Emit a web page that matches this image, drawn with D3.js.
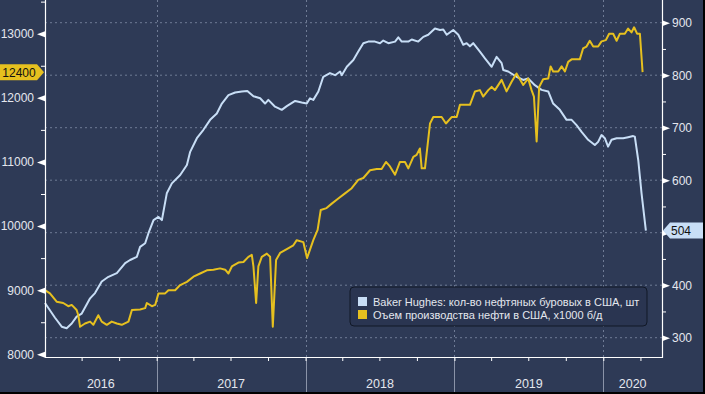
<!DOCTYPE html>
<html>
<head>
<meta charset="utf-8">
<script src="https://cdn.jsdelivr.net/npm/d3@7"></script>
<style>
    body { margin: 0; background: #2e3a56; }
    svg { display: block; font-family: "Liberation Sans", Arial, sans-serif; }
</style>
</head>
<body>
<div id="chart"></div>
<script>
// Tick values and labels
const leftTicks = [8000, 9000, 10000, 11000, 12000, 13000];
const leftMinor = [8500, 9500, 10500, 11500, 12500, 13500];
const rightTicks = [300, 400, 500, 600, 700, 800, 900];
const rightMinor = [350, 450, 550, 650, 750, 850];
const years = [2016, 2017, 2018, 2019, 2020];
const legendLabels = [
    "Baker Hughes: кол-во нефтяных буровых в США, шт",
    "Оъем производства нефти в США, x1000 б/д"
];

// Baker Hughes oil rigs, [decimal year, rigs] (right axis)
const rigCount = [
    [2016.252, 366], [2016.319, 338], [2016.364, 321], [2016.397, 318], [2016.431, 327], [2016.464, 340],
    [2016.498, 346], [2016.554, 375], [2016.587, 385], [2016.632, 407], [2016.677, 416], [2016.733, 423],
    [2016.789, 442], [2016.822, 448], [2016.867, 454], [2016.889, 473], [2016.923, 480], [2016.945, 499],
    [2016.979, 524], [2017.012, 530], [2017.035, 524], [2017.068, 575], [2017.102, 594], [2017.158, 610],
    [2017.203, 629], [2017.225, 654], [2017.270, 680], [2017.314, 696], [2017.359, 715], [2017.404, 727],
    [2017.438, 746], [2017.482, 762], [2017.527, 767], [2017.572, 769], [2017.609, 770], [2017.650, 760],
    [2017.695, 756], [2017.728, 746], [2017.750, 753], [2017.795, 740], [2017.840, 734], [2017.874, 741],
    [2017.930, 751], [2017.974, 748], [2018.008, 746], [2018.030, 756], [2018.052, 753], [2018.086, 769],
    [2018.119, 797], [2018.164, 804], [2018.198, 800], [2018.232, 807], [2018.243, 800], [2018.277, 816],
    [2018.321, 829], [2018.354, 845], [2018.388, 861], [2018.421, 864], [2018.466, 864], [2018.500, 861],
    [2018.522, 866], [2018.556, 861], [2018.601, 864], [2018.623, 872], [2018.646, 864], [2018.690, 864],
    [2018.713, 868], [2018.757, 864], [2018.791, 873], [2018.824, 877], [2018.869, 889], [2018.903, 886],
    [2018.925, 887], [2018.948, 877], [2018.992, 886], [2019.026, 877], [2019.059, 858], [2019.082, 861],
    [2019.104, 855], [2019.126, 861], [2019.171, 845], [2019.205, 832], [2019.250, 816], [2019.283, 835],
    [2019.317, 823], [2019.328, 810], [2019.361, 807], [2019.417, 797], [2019.462, 791], [2019.495, 794],
    [2019.540, 781], [2019.585, 772], [2019.630, 769], [2019.663, 746], [2019.708, 734], [2019.753, 715],
    [2019.787, 715], [2019.820, 705], [2019.854, 692], [2019.898, 677], [2019.943, 667], [2019.965, 673],
    [2019.988, 686], [2020.010, 680], [2020.032, 664], [2020.055, 677], [2020.089, 680], [2020.133, 680],
    [2020.166, 682], [2020.200, 684], [2020.211, 683], [2020.234, 638], [2020.256, 575], [2020.285, 504]
];

// US crude production, [decimal year, thousand b/d] (left axis)
const oilOutput = [
    [2016.252, 9000], [2016.285, 8950], [2016.330, 8820], [2016.374, 8800], [2016.408, 8750], [2016.431, 8770],
    [2016.464, 8690], [2016.475, 8610], [2016.487, 8430], [2016.520, 8480], [2016.554, 8510], [2016.576, 8460],
    [2016.609, 8610], [2016.632, 8510], [2016.666, 8460], [2016.699, 8510], [2016.733, 8480], [2016.766, 8460],
    [2016.811, 8510], [2016.834, 8690], [2016.889, 8700], [2016.923, 8720], [2016.934, 8800], [2016.968, 8750],
    [2016.990, 8770], [2017.012, 8950], [2017.057, 8950], [2017.079, 9000], [2017.124, 9000], [2017.158, 9080],
    [2017.203, 9130], [2017.247, 9210], [2017.292, 9260], [2017.337, 9310], [2017.381, 9320], [2017.426, 9340],
    [2017.460, 9320], [2017.482, 9260], [2017.505, 9370], [2017.549, 9430], [2017.583, 9440], [2017.616, 9520],
    [2017.639, 9550], [2017.650, 9370], [2017.668, 8800], [2017.683, 9370], [2017.706, 9520], [2017.740, 9570],
    [2017.762, 9520], [2017.780, 8430], [2017.802, 9470], [2017.829, 9580], [2017.874, 9640], [2017.918, 9700],
    [2017.941, 9780], [2017.985, 9750], [2018.010, 9500], [2018.052, 9780], [2018.081, 9940], [2018.102, 10250],
    [2018.141, 10280], [2018.176, 10350], [2018.220, 10430], [2018.265, 10510], [2018.310, 10590], [2018.354, 10720],
    [2018.388, 10750], [2018.433, 10870], [2018.478, 10890], [2018.511, 10890], [2018.540, 11000], [2018.567, 10930],
    [2018.601, 10800], [2018.634, 11000], [2018.668, 11000], [2018.690, 10900], [2018.724, 11080], [2018.746, 11110],
    [2018.768, 11210], [2018.780, 10900], [2018.802, 10900], [2018.836, 11600], [2018.858, 11700], [2018.914, 11700],
    [2018.943, 11600], [2018.981, 11700], [2019.015, 11700], [2019.037, 11890], [2019.104, 11890], [2019.138, 12100],
    [2019.171, 12120], [2019.193, 12020], [2019.227, 12120], [2019.250, 12170], [2019.272, 12120], [2019.317, 12280],
    [2019.350, 12100], [2019.384, 12250], [2019.417, 12380], [2019.462, 12200], [2019.495, 12300], [2019.518, 12120],
    [2019.534, 12020], [2019.552, 11320], [2019.569, 12170], [2019.596, 12290], [2019.630, 12300], [2019.646, 12490],
    [2019.663, 12410], [2019.697, 12410], [2019.720, 12490], [2019.742, 12410], [2019.764, 12560], [2019.787, 12600],
    [2019.842, 12600], [2019.864, 12770], [2019.887, 12800], [2019.909, 12890], [2019.932, 12800], [2019.965, 12800],
    [2019.988, 12880], [2020.017, 12900], [2020.039, 13000], [2020.066, 13000], [2020.089, 12890], [2020.111, 13000],
    [2020.144, 13000], [2020.166, 13080], [2020.189, 13020], [2020.206, 13100], [2020.226, 13000], [2020.245, 13000],
    [2020.263, 12400]
];

const width = 705;
const height = 394;
const plot = { left: 45, right: 662, top: 0, bottom: 357 };

const rigColor = "#c8def6";
const oilColor = "#e6c01f";
const textColor = "#e4e7ee";
const gridColor = "#6f7b95";

// decimal year -> Date
function toDate(t) {
    const y = Math.floor(t);
    const a = new Date(y, 0, 1), b = new Date(y + 1, 0, 1);
    return new Date(+a + (t - y) * (b - a));
}

const svg = d3.select("#chart")
    .append("svg")
    .attr("width", width)
    .attr("height", height);

svg.append("rect")
    .attr("width", width)
    .attr("height", height)
    .attr("fill", "#2e3a56");

// Scales
const x = d3.scaleTime()
    .domain([toDate(2016.252), toDate(2020.393)])
    .range([plot.left, plot.right]);
const yLeft = d3.scaleLinear().domain([8000, 13000]).range([354.3, 33.7]);
const yRight = d3.scaleLinear().domain([300, 900]).range([337.7, 22.7]);

const lastOil = oilOutput[oilOutput.length - 1][1];
const lastRig = rigCount[rigCount.length - 1][1];

// Horizontal grid (right axis)
svg.append("g")
    .selectAll("line")
    .data(rightTicks)
    .enter()
    .append("line")
    .attr("x1", plot.left)
    .attr("x2", plot.right)
    .attr("y1", d => yRight(d))
    .attr("y2", d => yRight(d))
    .style("stroke", gridColor)
    .style("stroke-width", 1)
    .style("stroke-dasharray", "2,3");

// Year boundaries
const yearStarts = years.slice(1).map(y => new Date(y, 0, 1));
svg.append("g")
    .selectAll("line")
    .data(yearStarts)
    .enter()
    .append("line")
    .attr("x1", d => Math.round(x(d)) + 0.5)
    .attr("x2", d => Math.round(x(d)) + 0.5)
    .attr("y1", plot.top)
    .attr("y2", plot.bottom)
    .style("stroke", gridColor)
    .style("stroke-dasharray", "2,3");

svg.append("g")
    .selectAll("line")
    .data(yearStarts)
    .enter()
    .append("line")
    .attr("x1", d => Math.round(x(d)) + 0.5)
    .attr("x2", d => Math.round(x(d)) + 0.5)
    .attr("y1", plot.bottom)
    .attr("y2", 392)
    .style("stroke", "#8a93a8")
    .style("stroke-width", 1);

// Year labels, centred in the visible part of each year
const xd = x.domain();
svg.append("g")
    .selectAll("text")
    .data(years)
    .enter()
    .append("text")
    .attr("x", y => {
        const a = Math.max(+new Date(y, 0, 1), +xd[0]);
        const b = Math.min(+new Date(y + 1, 0, 1), +xd[1]);
        return (x(a) + x(b)) / 2;
    })
    .attr("y", 388)
    .attr("text-anchor", "middle")
    .style("font-size", "12.5px")
    .style("fill", textColor)
    .text(d => d);

// Lines
const rigLine = d3.line()
    .x(d => x(toDate(d[0])))
    .y(d => yRight(d[1]));
const oilLine = d3.line()
    .x(d => x(toDate(d[0])))
    .y(d => yLeft(d[1]));

svg.append("path")
    .datum(rigCount)
    .attr("d", rigLine)
    .style("fill", "none")
    .style("stroke", rigColor)
    .style("stroke-width", 2)
    .style("stroke-linejoin", "round");

svg.append("path")
    .datum(oilOutput)
    .attr("d", oilLine)
    .style("fill", "none")
    .style("stroke", oilColor)
    .style("stroke-width", 2)
    .style("stroke-linejoin", "round");

// Left axis
const leftAxis = svg.append("g")
    .attr("transform", `translate(${plot.left},0)`)
    .call(d3.axisLeft(yLeft).tickValues(leftTicks).tickSize(0).tickPadding(11).tickFormat(d3.format("d")));
leftAxis.select(".domain").remove();
leftAxis.selectAll(".tick text").style("font-size", "12px").style("fill", textColor);
leftAxis.selectAll(".tick").append("path").attr("d", "M0,-3L-8,0L0,3Z").style("fill", "#fff");

const leftMinorAxis = svg.append("g")
    .attr("transform", `translate(${plot.left},0)`)
    .call(d3.axisLeft(yLeft).tickValues(leftMinor).tickSize(4).tickFormat(""));
leftMinorAxis.select(".domain").remove();
leftMinorAxis.selectAll(".tick line").style("stroke", "#fff");

// Right axis (label hidden where the last-value badge sits)
const rightAxis = svg.append("g")
    .attr("transform", `translate(${plot.right},0)`)
    .call(d3.axisRight(yRight).tickValues(rightTicks).tickSize(0).tickPadding(10));
rightAxis.select(".domain").remove();
rightAxis.selectAll(".tick text")
    .style("font-size", "12px")
    .style("fill", textColor)
    .style("display", d => Math.abs(yRight(d) - yRight(lastRig)) < 14 ? "none" : null);
rightAxis.selectAll(".tick").append("path").attr("d", "M0,-3L8,0L0,3Z").style("fill", "#fff");

const rightMinorAxis = svg.append("g")
    .attr("transform", `translate(${plot.right},0)`)
    .call(d3.axisRight(yRight).tickValues(rightMinor).tickSize(4).tickFormat(""));
rightMinorAxis.select(".domain").remove();
rightMinorAxis.selectAll(".tick line").style("stroke", "#fff");

// Bottom axis: quarterly ticks
const bottomAxis = svg.append("g")
    .attr("transform", `translate(0,${plot.bottom})`)
    .call(d3.axisBottom(x).ticks(d3.timeMonth.every(3)).tickSize(4).tickFormat(""));
bottomAxis.select(".domain").remove();
bottomAxis.selectAll(".tick line").style("stroke", "#fff");

// Axis frame lines
svg.append("path")
    .attr("d", `M${plot.left + 0.5},${plot.top}V${plot.bottom + 0.5}H${plot.right + 0.5}V${plot.top}`)
    .style("fill", "none")
    .style("stroke", "#fff")
    .style("stroke-width", 1.2);

// Last-value badges
const yo = yLeft(lastOil);
svg.append("path")
    .attr("d", `M0,${yo - 8}H37L44,${yo}L37,${yo + 8}H0Z`)
    .style("fill", oilColor);
svg.append("text")
    .attr("x", 19)
    .attr("y", yo + 4.5)
    .attr("text-anchor", "middle")
    .style("font-size", "12px")
    .style("fill", "#111")
    .text(lastOil);

const yr = yRight(lastRig);
svg.append("path")
    .attr("d", `M663,${yr}L670,${yr - 8}H703V${yr + 8}H670Z`)
    .style("fill", rigColor);
svg.append("text")
    .attr("x", 671)
    .attr("y", yr + 4.5)
    .style("font-size", "12px")
    .style("fill", "#111")
    .text(lastRig);

// Legend
const legend = svg.append("g").attr("transform", "translate(350,287)");
legend.append("rect")
    .attr("width", 297)
    .attr("height", 39)
    .attr("rx", 4)
    .style("fill", "#2a3551")
    .style("stroke", "#111827")
    .style("stroke-width", 1);

legend.selectAll("g")
    .data(legendLabels)
    .enter()
    .append("g")
    .attr("transform", (d, i) => `translate(8,${10 + i * 13})`)
    .each(function (d, i) {
        const g = d3.select(this);
        g.append("rect")
            .attr("width", 9)
            .attr("height", 9)
            .style("fill", i === 0 ? rigColor : oilColor);
        g.append("text")
            .attr("x", 15)
            .attr("y", 8.5)
            .style("font-size", "11px")
            .style("fill", textColor)
            .text(d);
    });

// Black frame at right and bottom edge
svg.append("rect").attr("x", 703).attr("width", 2).attr("height", height).style("fill", "#000");
svg.append("rect").attr("y", 392).attr("width", width).attr("height", 2).style("fill", "#000");
</script>
</body>
</html>
